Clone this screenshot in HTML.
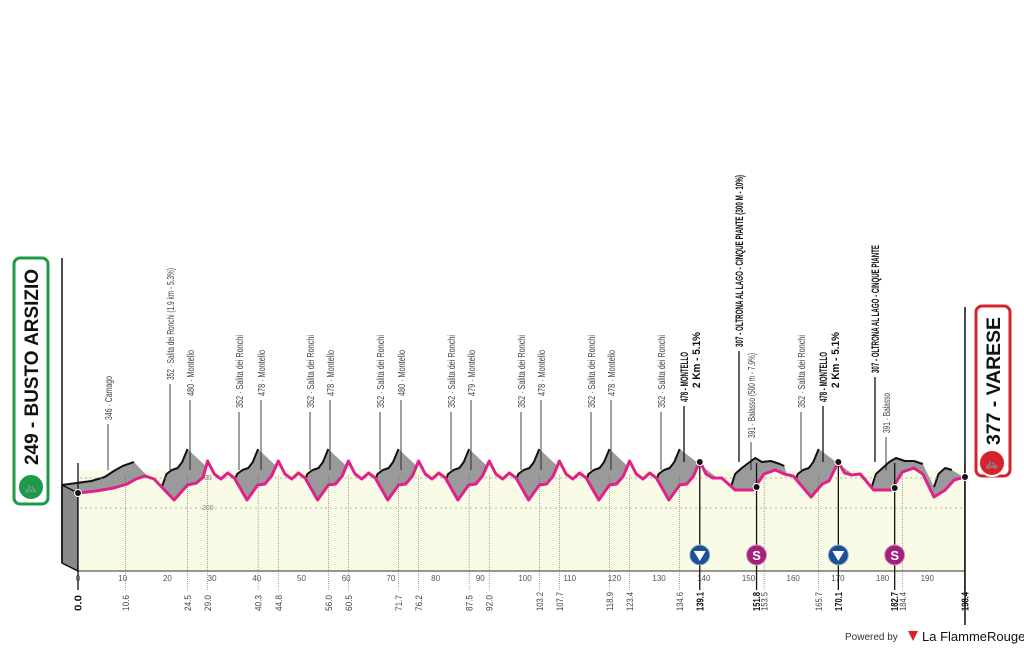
<!DOCTYPE html>
<html><head><meta charset="utf-8"><style>
body{margin:0;background:#fff;}
svg{display:block;font-family:"Liberation Sans Narrow","Liberation Sans",sans-serif;}
</style></head><body>
<svg id="s" width="1024" height="650" viewBox="0 0 1024 650" xmlns="http://www.w3.org/2000/svg"></svg>
<script>
const S=document.getElementById('s');
const X=k=>78+k*4.47;
let h='';
let P=[[0,493],[4,491],[8,488],[11,484],[13,479],[15,476],[17,479],[21.5,500],[24.5,485],[26.5,483],[28,477]];
const peaks=[29.0,44.8,60.5,76.2,92.0,107.7,123.4,139.1];
peaks.forEach((p,i)=>{
  P.push([p,461]);
  if(i<7){
    P.push([p+1.5,474],[p+3,479],[p+4.5,473],[p+6,478],[p+8.8,500],[p+11.2,485],[p+12.8,484],[p+14.3,476]);
  }
});
P.push([140.5,474],[142,478],[144,478],[147,490],[151,490],[153.5,474],[156,470],[158,474],[160,476],[164,497],[166.5,484],[168,481],[170.1,462],
[171.5,473],[173,475],[175,474],[178,490],[182,490],[184.4,472],[187,468],[189,474],[191.5,497],[194,490],[196,480],[198.4,477]);
let segs=[[[-3.6,485],[3,481],[6,477],[8,471],[10,466],[12.5,462]]];
const bpk=[24.5,40.3,56.0,71.7,87.5,103.2,118.9,134.6,165.7];
bpk.forEach(q=>segs.push([[q-6,490],[q-4.7,474],[q-3.5,470],[q-2.2,468],[q-1.2,462],[q,449]]));
segs.push([[146,488],[147,474],[148.5,468],[150,463],[151.5,458],[153,462],[155,461],[157,464],[158,466]]);
segs.push([[177.5,488],[178.5,474],[180,468],[181.5,462],[183,458],[185,461],[187,461],[189,464]]);
segs.push([[191.5,487],[192.5,474],[194,468],[195.5,470]]);
segs.sort((a,b)=>a[0][0]-b[0][0]);
let all=[];segs.forEach(s=>all=all.concat(s));all.push([198.4,478]);
const pth=a=>a.map((p,i)=>(i?'L':'M')+X(p[0]).toFixed(1)+' '+p[1]).join(' ');
h+=`<rect x="78" y="470" width="887" height="101" fill="#fafbe6"/>`;
h+=`<path d="${pth(all)} L965 571 L62 563 Z" fill="#9a9a9a"/>`;
segs.forEach(s=>h+=`<path d="${pth(s)}" fill="none" stroke="#111" stroke-width="2" stroke-linejoin="round"/>`);
h+=`<path d="M62 485 L78 493 L78 571 L62 563 Z" fill="#8a8a8a" stroke="#111" stroke-width="1.5"/>`;
h+=`<path d="${pth(P)} L965 571 L78 571 Z" fill="#fafbe6"/>`;
h+=`<line x1="80" y1="508" x2="965" y2="508" stroke="#999" stroke-dasharray="2 3" stroke-width="0.8"/>`;
h+=`<line x1="80" y1="478" x2="965" y2="478" stroke="#999" stroke-dasharray="2 3" stroke-width="0.8"/>`;
h+=`<text x="202" y="510" font-size="7" fill="#888">200</text><text x="200" y="480" font-size="7" fill="#888">400</text>`;
h+=`<path d="${pth(P)}" fill="none" stroke="#e0218a" stroke-width="3" stroke-linejoin="round"/>`;
h+=`<line x1="62" y1="258" x2="62" y2="563" stroke="#111" stroke-width="1.5"/>`;
h+=`<line x1="78" y1="571" x2="965" y2="571" stroke="#333" stroke-width="1"/>`;
h+=`<line x1="965" y1="307" x2="965" y2="625" stroke="#111" stroke-width="1.5"/>`;
for(let k=0;k<=190;k+=10){h+=`<text x="${X(k)}" y="581" font-size="8" fill="#555" text-anchor="middle">${k}</text>`;}
const kms=[[0,'0.0',1],[10.6,'10.6'],[24.5,'24.5'],[29,'29.0'],[40.3,'40.3'],[44.8,'44.8'],[56,'56.0'],[60.5,'60.5'],[71.7,'71.7'],[76.2,'76.2'],[87.5,'87.5'],[92,'92.0'],[103.2,'103.2'],[107.7,'107.7'],[118.9,'118.9'],[123.4,'123.4'],[134.6,'134.6'],[139.1,'139.1',1],[151.8,'151.8',1],[153.5,'153.5'],[165.7,'165.7'],[170.1,'170.1',1],[182.7,'182.7',1],[184.4,'184.4'],[198.4,'198.4',1]];
kms.forEach(([k,t,b])=>{const x=X(k);
 h+=`<line x1="${x}" y1="${b?463:475}" x2="${x}" y2="590" stroke="${b?'#111':'#666'}" stroke-width="${b?1.3:0.6}" ${b?'':'stroke-dasharray="1 1"'}/>`;
 h+=`<text transform="translate(${x+3.5},611) rotate(-90)" font-size="${b?10:9}" font-weight="${b?'bold':'normal'}" fill="${b?'#111':'#444'}" textLength="${t.length>4?19:16}" lengthAdjust="spacingAndGlyphs">${t}</text>`;});
const L=[[108,'346 · Camago',44,376,0],[170,'352 · Salita dei Ronchi (1.9 km - 5.3%)',112,268,0],[190,'480 · Montello',46,350,0]];
const pairs=[[239,261],[310,330],[380,401],[451,471],[521,541],[591,611],[661,684]];
const mv=['478','478','480','479','478','478','478'];
pairs.forEach((p,i)=>{L.push([p[0],'352 · Salita dei Ronchi',73,335,0]);if(i<6)L.push([p[1],mv[i]+' · Montello',46,350,0]);});
L.push([684,'478 - MONTELLO',50,352,1],[801,'352 · Salita dei Ronchi',73,335,0],[823,'478 - MONTELLO',50,352,1],
[739,'307 - OLTRONA AL LAGO - CINQUE PIANTE (300 M - 10%)',172,175,1],[875,'307 - OLTRONA AL LAGO - CINQUE PIANTE',128,245,1],
[751,'391 · Balasso (500 m - 7.9%)',85,353,0],[886,'391 · Balasso',40,393,0]);
L.forEach(([x,t,w,top,b])=>{const bot=top+w;
 h+=`<line x1="${x}" y1="${bot+4}" x2="${x}" y2="${b?462:470}" stroke="#111" stroke-width="${b?1.3:0.8}"/>`;
 h+=`<text transform="translate(${x+4},${bot}) rotate(-90)" font-size="${b?11:10}" font-weight="${b?'bold':'normal'}" fill="${b?'#111':'#444'}" textLength="${w}" lengthAdjust="spacingAndGlyphs">${t}</text>`;});
[[696,'2 Km - 5.1%'],[835,'2 Km - 5.1%']].forEach(([x,t])=>h+=`<text transform="translate(${x+4},388) rotate(-90)" font-size="11" font-weight="bold" fill="#111" textLength="56" lengthAdjust="spacingAndGlyphs">${t}</text>`);
[[X(0),493],[X(139.1),462],[X(151.8),487],[X(170.1),462],[X(182.7),488],[965,477]].forEach(([x,y])=>h+=`<circle cx="${x}" cy="${y}" r="3.5" fill="#111" stroke="#fff" stroke-width="1"/>`);
[[X(139.1),'b'],[X(151.8),'s'],[X(170.1),'b'],[X(182.7),'s']].forEach(([x,t])=>{
 if(t=='b')h+=`<circle cx="${x}" cy="555" r="10" fill="#1d4f9a" stroke="#9bb" stroke-width="1"/><path d="M${x-6} 551 L${x+6} 551 L${x} 561 Z" fill="#fff"/>`;
 else h+=`<circle cx="${x}" cy="555" r="10" fill="#a3207e" stroke="#d9b" stroke-width="1"/><text x="${x}" y="560" font-size="13" font-weight="bold" fill="#fff" text-anchor="middle" font-family="Liberation Sans">S</text>`;});
h+=`<rect x="14" y="258" width="34" height="246" rx="6" fill="#fff" stroke="#1d9a48" stroke-width="3"/>`;
h+=`<text transform="translate(38,465) rotate(-90)" font-size="19" font-weight="bold" fill="#111" textLength="196" lengthAdjust="spacingAndGlyphs">249 - BUSTO ARSIZIO</text>`;
h+=`<circle cx="31" cy="487" r="13" fill="#1d9a48" stroke="#fff" stroke-width="2"/><text x="31" y="491" font-size="11" fill="#fff" text-anchor="middle">🚲</text>`;
h+=`<rect x="976" y="306" width="34" height="170" rx="6" fill="#fff" stroke="#d4232a" stroke-width="3"/>`;
h+=`<text transform="translate(1000,445) rotate(-90)" font-size="19" font-weight="bold" fill="#111" textLength="128" lengthAdjust="spacingAndGlyphs">377 - VARESE</text>`;
h+=`<circle cx="992" cy="463" r="13" fill="#d4232a" stroke="#fff" stroke-width="2"/><text x="992" y="467" font-size="11" fill="#fff" text-anchor="middle">🚲</text>`;
h+=`<text x="845" y="640" font-size="10" fill="#333" font-family="Liberation Sans">Powered by</text>`;
h+=`<path d="M908 631 L918 631 L913 641 Z" fill="#d4232a"/>`;
h+=`<text x="922" y="641" font-size="13" fill="#111" font-family="Liberation Sans">La FlammeRouge</text>`;
S.innerHTML=h;
</script>
</body></html>
